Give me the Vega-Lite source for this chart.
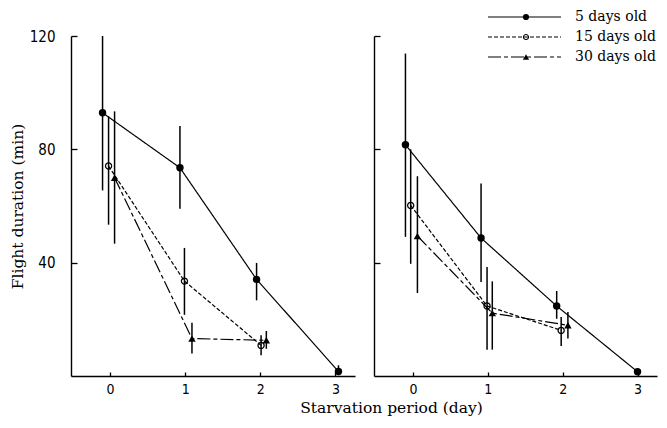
{
  "$schema": "https://vega.github.io/schema/vega-lite/v6.json",
  "padding": {"left": 10, "top": 8, "right": 5, "bottom": 5},
  "background": "white",
  "bounds": "flush",
  "spacing": 19,
  "datasets": {
    "flight": [
      {"sex": "female", "age": "5 days old", "day": -0.1, "mean": 92.9, "lo": 65.5, "hi": 120},
      {"sex": "female", "age": "5 days old", "day": 0.93, "mean": 73.5, "lo": 59.0, "hi": 88.2},
      {"sex": "female", "age": "5 days old", "day": 1.95, "mean": 34.1, "lo": 26.7, "hi": 39.9},
      {"sex": "female", "age": "5 days old", "day": 3.04, "mean": 1.6, "lo": 0.3, "hi": 3.8},
      {"sex": "female", "age": "15 days old", "day": -0.02, "mean": 74.1, "lo": 53.4, "hi": 91.6},
      {"sex": "female", "age": "15 days old", "day": 0.99, "mean": 33.5, "lo": 21.6, "hi": 45.2},
      {"sex": "female", "age": "15 days old", "day": 2.01, "mean": 10.8, "lo": 7.3, "hi": 14.4},
      {"sex": "female", "age": "30 days old", "day": 0.06, "mean": 70.0, "lo": 46.7, "hi": 93.4},
      {"sex": "female", "age": "30 days old", "day": 1.09, "mean": 13.2, "lo": 7.9, "hi": 18.8},
      {"sex": "female", "age": "30 days old", "day": 2.08, "mean": 12.6, "lo": 9.6, "hi": 15.9},
      {"sex": "male", "age": "5 days old", "day": -0.1, "mean": 81.6, "lo": 49.1, "hi": 113.8},
      {"sex": "male", "age": "5 days old", "day": 0.91, "mean": 48.7, "lo": 33.2, "hi": 67.9},
      {"sex": "male", "age": "5 days old", "day": 1.92, "mean": 24.7, "lo": 20.2, "hi": 30.0},
      {"sex": "male", "age": "5 days old", "day": 3.0, "mean": 1.5, "lo": 0.5, "hi": 2.5},
      {"sex": "male", "age": "15 days old", "day": -0.03, "mean": 60.2, "lo": 39.6, "hi": 80.0},
      {"sex": "male", "age": "15 days old", "day": 0.99, "mean": 24.7, "lo": 9.3, "hi": 38.5},
      {"sex": "male", "age": "15 days old", "day": 1.98, "mean": 16.1, "lo": 10.6, "hi": 20.8},
      {"sex": "male", "age": "30 days old", "day": 0.06, "mean": 49.4, "lo": 29.3, "hi": 70.5},
      {"sex": "male", "age": "30 days old", "day": 1.06, "mean": 22.2, "lo": 9.3, "hi": 33.4},
      {"sex": "male", "age": "30 days old", "day": 2.07, "mean": 17.9, "lo": 13.2, "hi": 22.6}
    ],
    "panels": [
      {"sex": "female", "label": "female"},
      {"sex": "male", "label": "male"}
    ]
  },
  "config": {
    "view": {"stroke": null},
    "axis": {
      "grid": false,
      "domainColor": "black",
      "domainWidth": 1.4,
      "tickColor": "black",
      "tickWidth": 1.3,
      "labelColor": "black",
      "labelFont": "Liberation Sans Narrow, DejaVu Sans Condensed, sans-serif",
      "labelFontSize": 15,
      "titleColor": "black",
      "titleFont": "DejaVu Serif",
      "titleFontWeight": "normal",
      "titleFontSize": 15
    }
  },
  "hconcat": [
    {
      "width": 284,
      "height": 340,
      "encoding": {
        "x": {"field": "day", "type": "quantitative", "scale": {"domain": [-0.52, 3.26], "nice": false, "zero": false},
              "axis": {"values": [0, 1, 2, 3], "tickSize": -4, "labelPadding": 10, "labelFontSize": 14, "title": "Starvation period (day)", "titleFontSize": 15.5, "titleX": 320, "titleY": 36, "titleBaseline": "alphabetic"}}
      },
      "layer": [
        {
          "data": {"name": "flight"},
          "transform": [{"filter": "datum.sex === 'female'"}],
          "mark": {"type": "rule", "color": "black", "strokeWidth": 1.5},
          "encoding": {
            "y": {"field": "lo", "type": "quantitative", "scale": {"domain": [0, 120], "nice": false},
                  "axis": {"values": [40, 80, 120], "tickSize": -6, "labelPadding": 22, "title": "Flight duration (min)", "titleFontSize": 15.5, "titlePadding": 4}},
            "y2": {"field": "hi"}
          }
        },
        {
          "data": {"name": "flight"},
          "transform": [{"filter": "datum.sex === 'female'"}],
          "mark": {"type": "line", "color": "black", "strokeWidth": 1.2},
          "encoding": {
            "y": {"field": "mean", "type": "quantitative"},
            "strokeDash": {"field": "age", "type": "nominal",
              "scale": {"domain": ["5 days old", "15 days old", "30 days old"], "range": [[1, 0], [4, 2], [13, 3, 4, 3]]},
              "legend": {"orient": "none", "legendX": 416, "legendY": -28, "title": null, "symbolType": "stroke", "symbolSize": 5329,
                         "symbolStrokeColor": "black", "symbolStrokeWidth": 1.2, "labelFont": "DejaVu Serif", "labelFontSize": 14,
                         "labelColor": "black", "labelOffset": 13, "clipHeight": 18, "rowPadding": 2}},
            "order": {"field": "day", "type": "quantitative"}
          }
        },
        {
          "data": {"name": "flight"},
          "transform": [{"filter": "datum.sex === 'female'"}],
          "mark": {"type": "point", "filled": true, "color": "black", "opacity": 1, "size": 55},
          "encoding": {
            "y": {"field": "mean", "type": "quantitative"},
            "shape": {"field": "age", "type": "nominal", "sort": ["5 days old", "15 days old", "30 days old"],
              "scale": {"range": ["circle", "M1,0A1,1,0,1,1,-1,0A1,1,0,1,1,1,0ZM0.66,0A0.66,0.66,0,1,0,-0.66,0A0.66,0.66,0,1,0,0.66,0Z", "triangle-up"]},
              "legend": {"orient": "none", "legendX": 450, "legendY": -28, "title": null, "labelExpr": "''", "symbolSize": 38,
                         "symbolFillColor": "black", "symbolStrokeWidth": 0, "symbolOpacity": 1, "clipHeight": 18, "rowPadding": 2}}
          }
        },
        {
          "data": {"name": "panels"},
          "transform": [{"filter": "datum.sex === 'female'"}],
          "mark": {"type": "text", "font": "DejaVu Serif", "fontSize": 14, "fill": "black"},
          "encoding": {
            "x": {"datum": 1.29, "type": "quantitative"},
            "y": {"datum": 110, "type": "quantitative"},
            "text": {"field": "label", "type": "nominal"}
          }
        }
      ]
    },
    {
      "width": 283,
      "height": 340,
      "encoding": {
        "x": {"field": "day", "type": "quantitative", "scale": {"domain": [-0.52, 3.26], "nice": false, "zero": false},
              "axis": {"values": [0, 1, 2, 3], "tickSize": -4, "labelPadding": 10, "labelFontSize": 14, "title": null}}
      },
      "layer": [
        {
          "data": {"name": "flight"},
          "transform": [{"filter": "datum.sex === 'male'"}],
          "mark": {"type": "rule", "color": "black", "strokeWidth": 1.5},
          "encoding": {
            "y": {"field": "lo", "type": "quantitative", "scale": {"domain": [0, 120], "nice": false},
                  "axis": {"values": [40, 80, 120], "tickSize": -6, "labels": false, "title": null}},
            "y2": {"field": "hi"}
          }
        },
        {
          "data": {"name": "flight"},
          "transform": [{"filter": "datum.sex === 'male'"}],
          "mark": {"type": "line", "color": "black", "strokeWidth": 1.2},
          "encoding": {
            "y": {"field": "mean", "type": "quantitative"},
            "strokeDash": {"field": "age", "type": "nominal", "legend": null},
            "order": {"field": "day", "type": "quantitative"}
          }
        },
        {
          "data": {"name": "flight"},
          "transform": [{"filter": "datum.sex === 'male'"}],
          "mark": {"type": "point", "filled": true, "color": "black", "opacity": 1, "size": 55},
          "encoding": {
            "y": {"field": "mean", "type": "quantitative"},
            "shape": {"field": "age", "type": "nominal", "sort": ["5 days old", "15 days old", "30 days old"], "legend": null}
          }
        },
        {
          "data": {"name": "panels"},
          "transform": [{"filter": "datum.sex === 'male'"}],
          "mark": {"type": "text", "font": "DejaVu Serif", "fontSize": 14, "fill": "black"},
          "encoding": {
            "x": {"datum": 0.47, "type": "quantitative"},
            "y": {"datum": 110, "type": "quantitative"},
            "text": {"field": "label", "type": "nominal"}
          }
        }
      ]
    }
  ]
}
